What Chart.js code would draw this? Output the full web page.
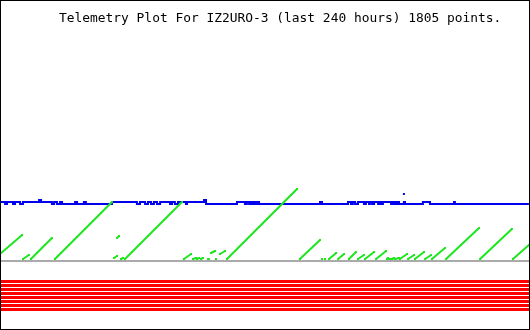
<!DOCTYPE html>
<html>
<head>
<meta charset="utf-8">
<script src="https://cdn.jsdelivr.net/npm/chart.js@4.4.1/dist/chart.umd.min.js"></script>
<style>
  body { margin: 0; background: #fff; }
  #wrap { position: relative; width: 530px; height: 330px; }
  #plot { position: absolute; left: 0; top: 0; }
  #frame { position: absolute; left: 0; top: 0; width: 530px; height: 330px; box-sizing: border-box; border: 1px solid #000; pointer-events: none; }
  #title { position: absolute; left: 59px; top: 10px; font: 12.9px "DejaVu Sans Mono", monospace; line-height: 15px; color: #000; white-space: pre; }
</style>
</head>
<body>
<div id="wrap">
  <canvas id="plot" width="530" height="330"></canvas>
  <div id="title">Telemetry Plot For IZ2URO-3 (last 240 hours) 1805 points.</div>
  <div id="frame"></div>
</div>
<script>
// telemetry plot, x = hours in the 240 h window, y = raw channel value

// blue channel: level changes (hour, value), held until the next change
const blueHours = [0, 2.3, 3.2, 5.9, 6.8, 9.1, 10.4, 17.7, 18.6, 23.5, 24.5, 25.8, 27.2, 28.1, 34.0, 34.9, 38.0, 38.9,
  50.7, 62.0, 63.4, 65.7, 67.0, 68.4, 69.7, 71.1, 72.5, 77.0, 77.9, 79.2, 80.6, 84.2, 84.7, 92.4, 93.3,
  107.3, 110.9, 111.8, 112.8, 113.7, 114.6, 115.0, 115.9, 116.4, 117.3, 144.9, 145.8, 157.6, 158.9, 159.8, 160.8,
  162.1, 164.8, 165.7, 167.1, 167.5, 168.5, 169.4, 171.2, 172.1, 172.5, 173.4, 177.1, 177.5, 178.0, 178.9, 179.3,
  179.8, 180.7, 182.9, 183.4, 191.5, 194.7, 205.6, 206.0, 239.5];
const blueValues = [128, 126, 128, 126, 128, 126, 128, 130, 128, 126, 128, 126, 128, 126, 128, 126, 128, 126,
  128, 126, 128, 126, 128, 126, 128, 126, 128, 126, 128, 126, 128, 126, 128, 130, 126,
  128, 126, 128, 126, 128, 126, 128, 126, 128, 126, 128, 126, 128, 126, 128, 126,
  128, 126, 128, 126, 128, 126, 128, 126, 128, 126, 128, 126, 128, 126, 128, 126,
  128, 126, 128, 126, 128, 126, 128, 126, 126];
const blueSpikeHour = 182.9;
const blueSpikeValue = 136;

// green channel: ramps (start hour, start value, end hour, end value)
const greenRamps = [
  [0, 76, 10.0, 95], [10.4, 71, 13.1, 75], [14.0, 71, 23.5, 92], [24.9, 71, 50.7, 128],
  [51.6, 72, 53.0, 74], [53.0, 92, 53.9, 94], [54.8, 71, 55.7, 72], [56.6, 71, 82.4, 128],
  [83.3, 71, 86.5, 76], [87.4, 71, 88.8, 72], [89.2, 71, 90.1, 72], [91.0, 71, 91.9, 72],
  [94.2, 71, 94.6, 71], [95.5, 77, 97.4, 79], [97.8, 71, 97.8, 71], [99.6, 76, 101.9, 79],
  [102.8, 71, 134.5, 141], [135.8, 71, 144.9, 90], [145.8, 71, 145.8, 71], [147.2, 71, 147.2, 71],
  [149.0, 71, 152.2, 77], [153.1, 71, 155.8, 76], [158.0, 71, 161.2, 78], [162.1, 71, 164.8, 75],
  [165.3, 71, 169.4, 78], [170.3, 71, 174.8, 79], [175.2, 71, 175.7, 72], [176.2, 71, 177.1, 71],
  [177.5, 71, 178.4, 72], [178.9, 71, 180.7, 72], [181.1, 71, 184.3, 76], [184.8, 71, 187.5, 75],
  [187.9, 71, 192.0, 78], [192.5, 71, 195.2, 75], [195.6, 71, 201.5, 82], [202.0, 71, 216.9, 102],
  [217.4, 71, 231.8, 101], [232.3, 71, 239.5, 85]
];

// flat channels
const grayValue = 69;
const redValues = [48.5, 44.5, 40.5, 36.5, 32.5, 28.5, 24.5, 20.5];

// build point lists
const bluePoints = blueHours.map((h, i) => ({ x: h, y: blueValues[i] }));
const greenPoints = [];
greenRamps.forEach(r => {
  greenPoints.push({ x: r[0], y: r[1] });
  greenPoints.push({ x: r[2], y: r[3] });
  greenPoints.push({ x: r[2], y: null }); // break between ramps
});

function flat(v, color, width) {
  return {
    data: [{ x: 0, y: v }, { x: 240, y: v }],
    borderColor: color,
    borderWidth: width,
    pointRadius: 0
  };
}

const datasets = [
  {
    data: greenPoints,
    borderColor: '#1ee61e',
    backgroundColor: '#1ee61e',
    borderWidth: 2,
    pointRadius: 1.4,
    pointStyle: 'rect',
    pointBorderWidth: 0,
    spanGaps: false
  },
  {
    data: [{ x: blueSpikeHour, y: blueSpikeValue }],
    showLine: false,
    backgroundColor: '#0000ee',
    pointRadius: 1.4,
    pointStyle: 'rect',
    pointBorderWidth: 0
  },
  {
    data: bluePoints,
    borderColor: '#0000ee',
    borderWidth: 2,
    pointRadius: 0,
    stepped: true
  },
  flat(grayValue, '#aaaaaa', 2)
];
redValues.forEach(v => datasets.push(flat(v, '#ff0000', 3)));

new Chart(document.getElementById('plot'), {
  type: 'line',
  data: { datasets: datasets },
  options: {
    responsive: false,
    animation: false,
    devicePixelRatio: 1,
    layout: { padding: 0, autoPadding: false },
    plugins: { legend: { display: false }, tooltip: { enabled: false } },
    scales: {
      x: { type: 'linear', min: 0, max: 240, display: false },
      y: { type: 'linear', min: 0, max: 330, display: false }
    }
  }
});
</script>
</body>
</html>
